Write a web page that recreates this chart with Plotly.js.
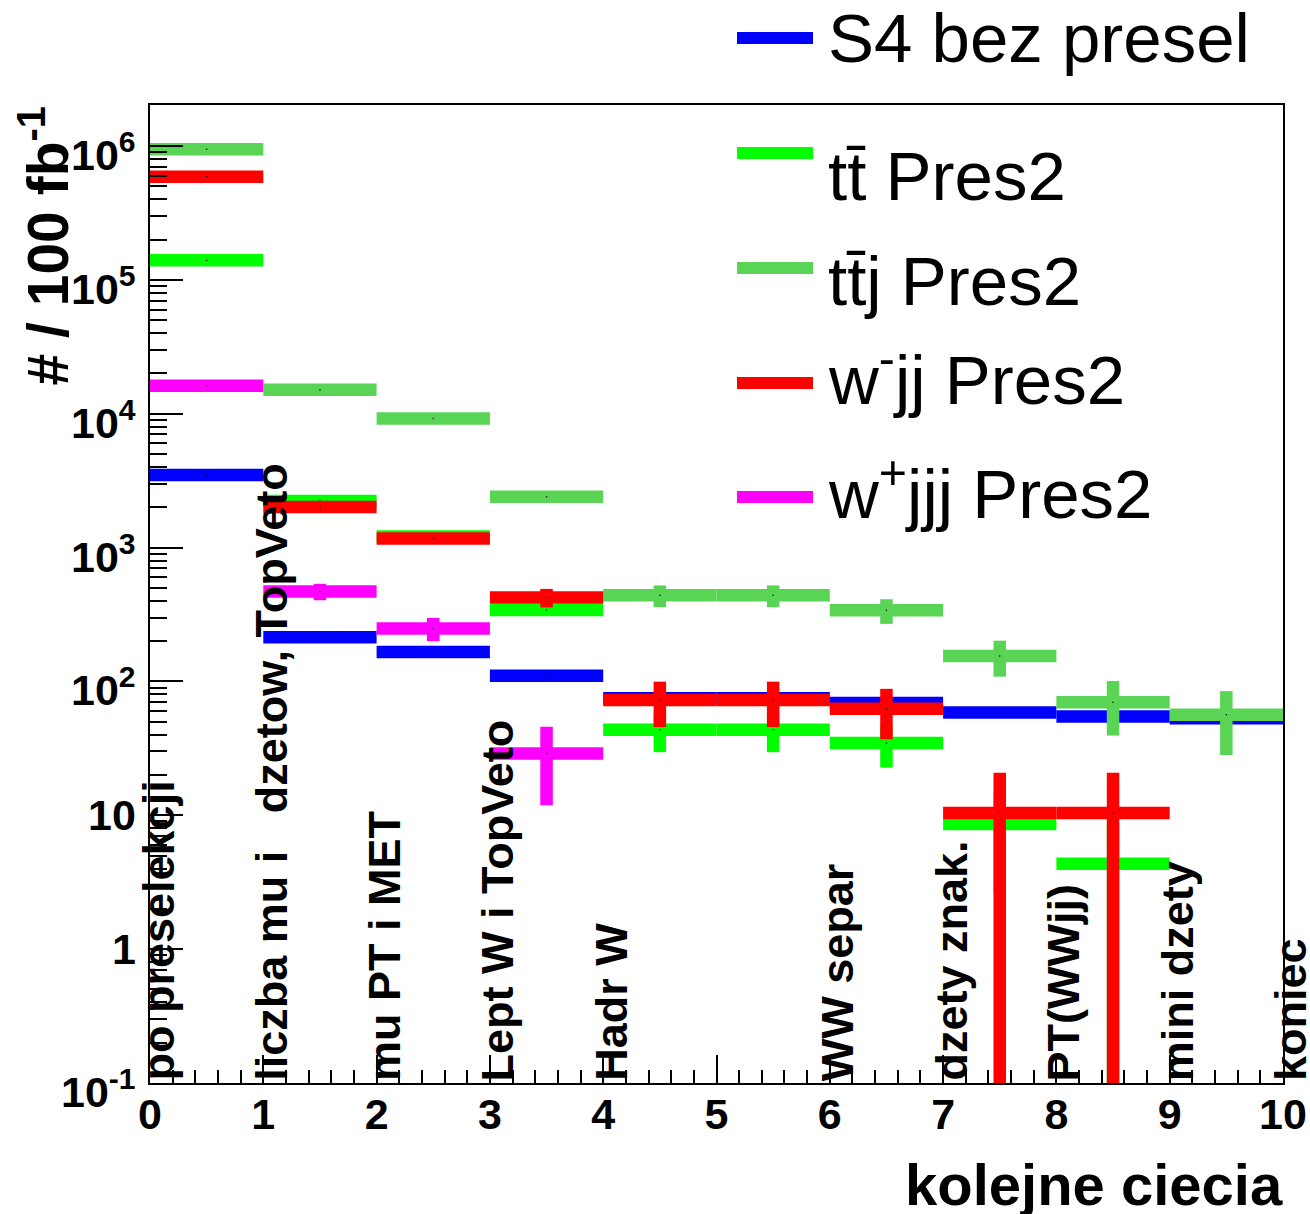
<!DOCTYPE html>
<html>
<head>
<meta charset="utf-8">
<script src="https://cdn.plot.ly/plotly-3.0.1.min.js"></script>
<style>
  html, body { margin: 0; padding: 0; background: #ffffff; }
  #chart { width: 1310px; height: 1214px; }
</style>
</head>
<body>
<div id="chart"></div>
<script>
// Cut flow: expected events per 100 fb^-1 after each successive selection cut.
const binCenters = [0.5, 1.5, 2.5, 3.5, 4.5, 5.5, 6.5, 7.5, 8.5, 9.5];

const cutPositions = [0, 1, 2, 3, 4, 5, 6, 7, 8, 9, 10];
const cutLabels = [
  'po preselekcji',
  'liczba mu i\u00a0\u00a0 dzetow, TopVeto',
  'mu PT i MET',
  'Lept W i TopVeto',
  'Hadr W',
  '',
  'WW separ',
  'dzety znak.',
  'PT(WWjj)',
  'mini dzety',
  'koniec'
];

// Signal
const s4Values = [3490, 214, 166, 110, 75, 75, 69, 58.7, 54.6, 53];
const s4Errors = [35, 6, 5, 4, 3.5, 3.5, 3.2, 3, 2.8, 2.8];
// t tbar
const ttValues = [140000, 2230, 1210, 342, 43.6, 43.6, 34.7, 8.6, 4.35, 0];
const ttErrors = [1500, 60, 40, 22, 14, 14, 12, 6, 4.3, 0];
// t tbar + jet
const ttjValues = [945000, 15100, 9200, 2400, 440, 440, 340, 155, 70, 56.4];
const ttjErrors = [3000, 300, 230, 120, 81, 81, 71, 46.5, 30.6, 28.2];
// W- jj
const wmValues = [590000, 2010, 1170, 424, 72.6, 72.6, 62.5, 10.4, 10.4, 0];
const wmErrors = [4000, 75, 55, 67, 27, 27, 25.5, 10.4, 10.4, 0];
// W+ jjj
const wpValues = [16200, 470, 249, 28.9, 0, 0, 0, 0, 0, 0];
const wpErrors = [200, 66, 49, 17, 0, 0, 0, 0, 0, 0];

const seriesNames = ['S4 bez presel', 'tt\u0304 Pres2', 'tt\u0304j Pres2', 'w<sup>-</sup>jj Pres2', 'w<sup>+</sup>jjj Pres2'];
const seriesColors = ['#0000ff', '#00ff00', '#59d454', '#ff0000', '#ff00ff'];
const seriesValues = [s4Values, ttValues, ttjValues, wmValues, wpValues];
const seriesErrors = [s4Errors, ttErrors, ttjErrors, wmErrors, wpErrors];

const yTickVals = [0.1, 1, 10, 100, 1e3, 1e4, 1e5, 1e6];
const yTickText = ['10<sup>-1</sup>', '1', '10', '10<sup>2</sup>', '10<sup>3</sup>',
                   '10<sup>4</sup>', '10<sup>5</sup>', '10<sup>6</sup>'];

const FONT = 'Liberation Sans, Arial, Helvetica, sans-serif';

// frame of the plotting area, in page pixels
const frame = { left: 150, right: 1283, top: 105, bottom: 1083 };
const W = 1310, H = 1214;
const fx = px => (px - frame.left) / (frame.right - frame.left);
const fy = py => (frame.bottom - py) / (frame.bottom - frame.top);

// histogram-style points: bin-wide bar plus vertical error bar
const traces = seriesValues.map((vals, k) => {
  const x = [], y = [], e = [];
  vals.forEach((v, i) => {
    if (v > 0) { x.push(binCenters[i]); y.push(v); e.push(seriesErrors[k][i]); }
  });
  return {
    type: 'scatter', mode: 'markers', x: x, y: y, showlegend: false,
    hoverinfo: 'skip',
    marker: { size: 1.5, color: '#000000' },
    error_x: { type: 'constant', value: 0.5, width: 0, thickness: 12.5, color: seriesColors[k] },
    error_y: { type: 'data', array: e, visible: true, width: 0, thickness: 12.5, color: seriesColors[k] }
  };
});

const annotations = [];
const shapes = [];

// vertical cut names at each cut boundary
cutLabels.forEach((t, i) => {
  if (!t) return;
  annotations.push({
    text: t, x: cutPositions[i], xref: 'x', y: 0, yref: 'paper',
    xanchor: 'left', yanchor: 'bottom', textangle: -90, xshift: -20,
    showarrow: false, font: { family: FONT, size: 45, weight: 'bold', color: '#000' }
  });
});

// y tick labels (labels with an exponent sit a little lower, centred as a whole)
yTickVals.forEach((v, i) => {
  const hasExp = yTickText[i].indexOf('<sup>') >= 0;
  annotations.push({
    text: yTickText[i], x: 0, xref: 'paper', y: Math.log10(v), yref: 'y',
    xanchor: 'right', yanchor: 'middle', xshift: -12, yshift: hasExp ? -6 : 0,
    showarrow: false, font: { family: FONT, size: 43, weight: 'bold', color: '#000' }
  });
});

// axis titles
annotations.push({
  text: '# / 100 fb<sup>-1</sup>', x: fx(82), xref: 'paper', y: 1, yref: 'paper',
  xanchor: 'right', yanchor: 'top', textangle: -90, showarrow: false,
  font: { family: FONT, size: 57, weight: 'bold', color: '#000' }
});
annotations.push({
  text: 'kolejne ciecia', x: fx(1285), xref: 'paper', y: fy(1184), yref: 'paper',
  xanchor: 'right', yanchor: 'middle', showarrow: false,
  font: { family: FONT, size: 58, weight: 'bold', color: '#000' }
});

// legend
const legendLineY = [38, 153, 268, 383, 497];
const legendTextY = [38, 176, 282, 375, 489];
seriesNames.forEach((name, k) => {
  shapes.push({
    type: 'line', xref: 'paper', yref: 'paper',
    x0: fx(737), x1: fx(813), y0: fy(legendLineY[k]), y1: fy(legendLineY[k]),
    line: { color: seriesColors[k], width: 12 }
  });
  annotations.push({
    text: name, x: fx(826), xref: 'paper', y: fy(legendTextY[k]), yref: 'paper',
    xanchor: 'left', yanchor: 'middle', showarrow: false,
    font: { family: FONT, size: 69, color: '#000' }
  });
});

const layout = {
  width: W, height: H,
  margin: { l: frame.left, r: W - frame.right, t: frame.top, b: H - frame.bottom, pad: 0 },
  paper_bgcolor: '#ffffff', plot_bgcolor: '#ffffff',
  showlegend: false,
  xaxis: {
    range: [0, 10], tick0: 0, dtick: 1, ticks: 'inside', ticklen: 28, tickwidth: 2,
    tickcolor: '#000', showline: true, linewidth: 2, linecolor: '#000', mirror: true,
    showgrid: false, zeroline: false, ticklabelstandoff: -8,
    tickfont: { family: FONT, size: 43, weight: 'bold', color: '#000' },
    minor: { dtick: 0.2, ticks: 'inside', ticklen: 13, tickwidth: 2, tickcolor: '#000', showgrid: false }
  },
  yaxis: {
    type: 'log', range: [-1, 6.306], ticks: 'inside', ticklen: 33, tickwidth: 2,
    tickcolor: '#000', showline: true, linewidth: 2, linecolor: '#000', mirror: true,
    showgrid: false, zeroline: false, showticklabels: false, dtick: 1,
    minor: { dtick: 'D1', ticks: 'inside', ticklen: 17, tickwidth: 2, tickcolor: '#000', showgrid: false }
  },
  annotations: annotations,
  shapes: shapes
};

Plotly.newPlot('chart', traces, layout, { staticPlot: true, displayModeBar: false });
</script>
</body>
</html>
